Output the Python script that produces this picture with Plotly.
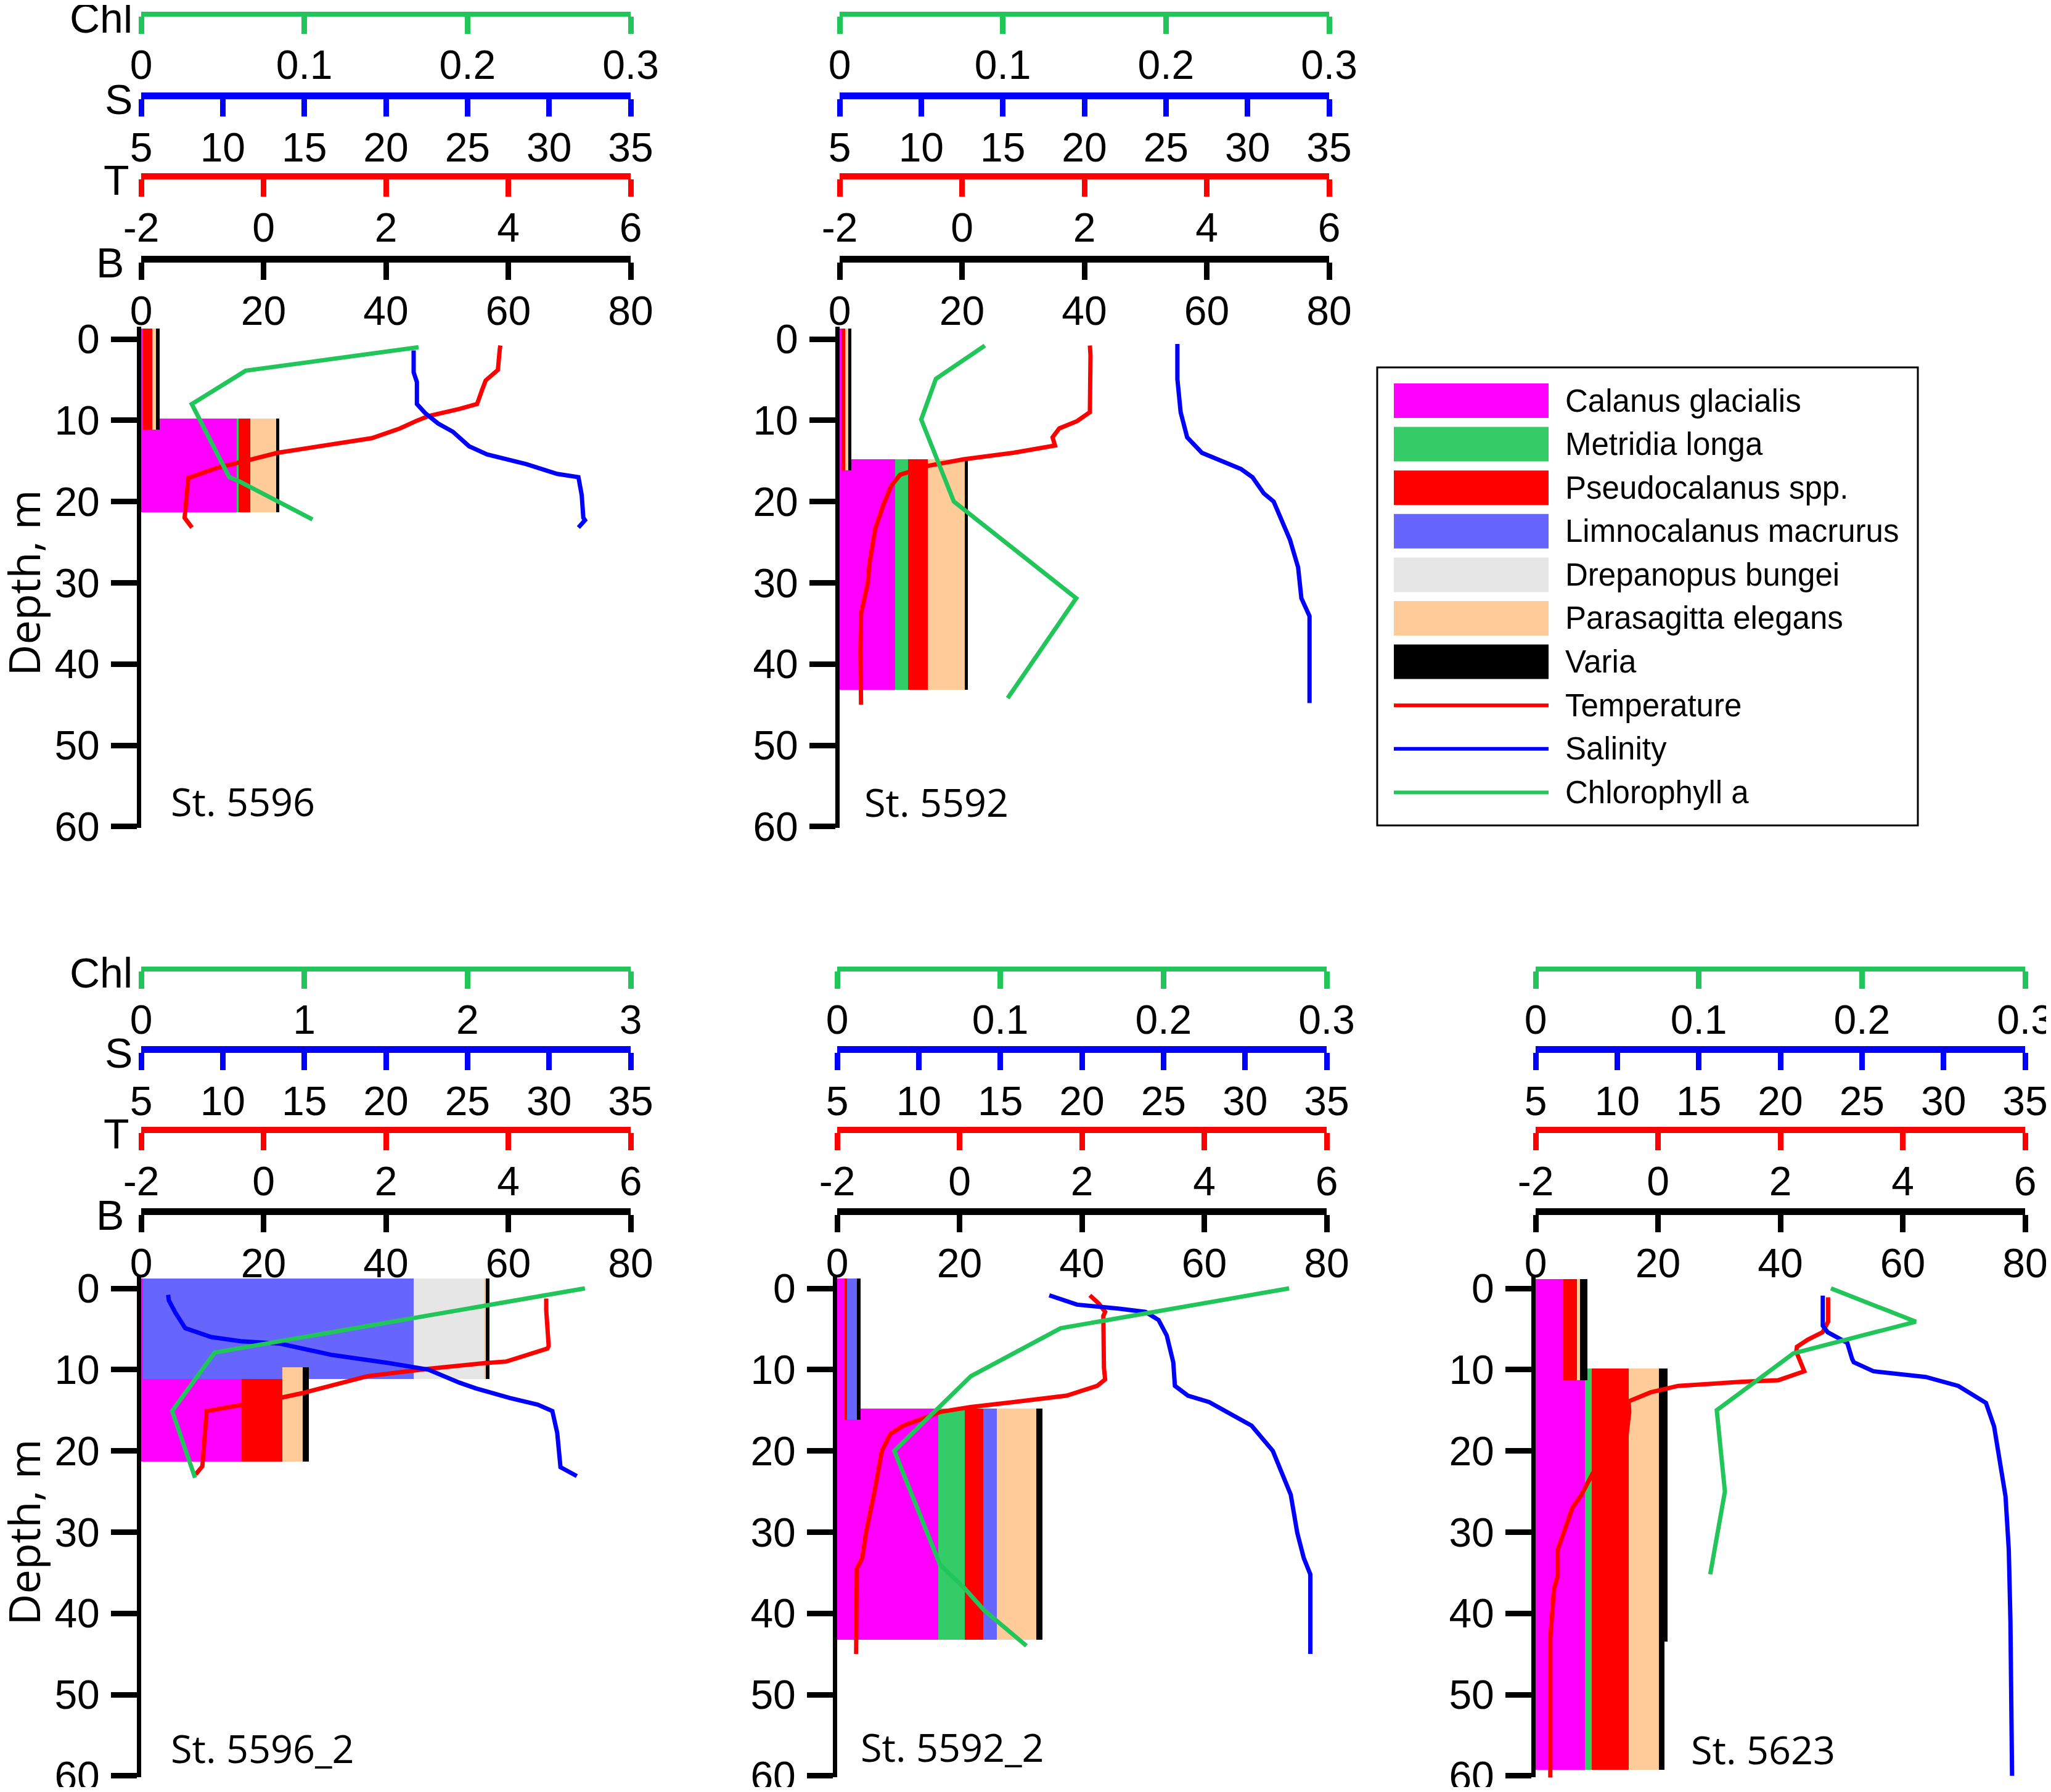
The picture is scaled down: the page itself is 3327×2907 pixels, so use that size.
import plotly.graph_objects as go

W, H = 3327, 2907

# ---------------- data ----------------
species = ["Calanus glacialis", "Metridia longa", "Pseudocalanus spp.",
           "Limnocalanus macrurus", "Drepanopus bungei", "Parasagitta elegans", "Varia"]
species_colors = ["#FF00FF", "#33CC66", "#FF0000", "#6666FF", "#E6E6E6", "#FFCC99", "#000000"]
line_names = ["Temperature", "Salinity", "Chlorophyll a"]
line_colors = ["#FF0000", "#0000FF", "#22C55A"]

stations = ["St. 5596", "St. 5592", "St. 5596_2", "St. 5592_2", "St. 5623"]
chl_max = [0.3, 0.3, 3, 0.3, 0.3]
chl_ticks = [[0, 0.1, 0.2, 0.3], [0, 0.1, 0.2, 0.3], [0, 1, 2, 3],
             [0, 0.1, 0.2, 0.3], [0, 0.1, 0.2, 0.3]]

# sampled layers (top, bottom of drawn bar, m) and biomass per species (same order as `species`)
layer_top_5596 = [-1.3, 9.8]
layer_bottom_5596 = [11.2, 21.3]
biomass_5596 = [[0.3, 0, 1.5, 0, 0, 0.6, 0.6],
                [15.6, 0.3, 1.9, 0, 0, 4.3, 0.5]]

layer_top_5592 = [-1.3, 14.8]
layer_bottom_5592 = [16.2, 43.2]
biomass_5592 = [[0.3, 0, 0.6, 0, 0, 0.5, 0.5],
                [9.1, 2.1, 3.2, 0, 0, 6.1, 0.5]]

layer_top_5596_2 = [-1.2, 9.7]
layer_bottom_5596_2 = [11.2, 21.3]
biomass_5596_2 = [[0.3, 0, 0, 44.2, 11.5, 0.3, 0.6],
                  [16.4, 0, 6.7, 0, 0, 3.3, 1.0]]

layer_top_5592_2 = [-1.2, 14.8]
layer_bottom_5592_2 = [16.2, 43.3]
biomass_5592_2 = [[1.2, 0, 0.4, 1.6, 0, 0, 0.6],
                  [16.5, 4.4, 3.0, 2.2, 0, 6.4, 1.1]]

layer_top_5623 = [-1.1, 9.9, 43.5]
layer_bottom_5623 = [11.3, 43.5, 59.3]
biomass_5623 = [[4.5, 0, 2.3, 0, 0, 0.5, 1.2],
                [8.1, 1.1, 6.0, 0, 0, 5.0, 1.4],
                [8.1, 1.1, 6.0, 0, 0, 5.0, 0.9]]

# temperature profiles (deg C)
t_depth_5596 = [0.8, 1.3, 3.8, 5.1, 6.3, 8.0, 8.6, 9.5, 10.1, 11.0, 12.2, 13.2, 14.0, 15.2, 15.8, 17.1, 22.0, 23.2]
t_5596 = [3.87, 3.86, 3.83, 3.63, 3.57, 3.49, 3.2, 2.69, 2.49, 2.23, 1.77, 0.91, 0.23, -0.4, -0.74, -1.23, -1.29, -1.17]
t_depth_5592 = [0.8, 2.0, 9.0, 10.1, 11.0, 12.1, 13.1, 14.0, 14.8, 15.6, 16.7, 18.1, 20.3, 23.4, 27.5, 30.0, 33.8, 38.5, 45.0]
t_5592 = [2.09, 2.10, 2.09, 1.88, 1.59, 1.48, 1.52, 0.84, 0.03, -0.55, -1.01, -1.16, -1.28, -1.42, -1.51, -1.54, -1.65, -1.66, -1.65]
t_depth_5596_2 = [1.25, 2.7, 7.1, 7.4, 9.0, 9.2, 9.9, 10.8, 12.9, 13.6, 15.1, 21.9, 22.9]
t_5596_2 = [4.62, 4.62, 4.66, 4.64, 3.97, 3.61, 2.69, 1.70, 0.63, 0.20, -0.93, -1.00, -1.11]
t_depth_5592_2 = [0.85, 1.9, 2.9, 3.4, 9.8, 11.2, 12.0, 13.2, 14.0, 14.6, 15.2, 16.9, 17.9, 20.0, 25.0, 30.1, 33.2, 34.5, 45.0]
t_5592_2 = [2.13, 2.28, 2.38, 2.35, 2.36, 2.38, 2.25, 1.75, 0.88, 0.18, -0.31, -0.92, -1.13, -1.27, -1.39, -1.53, -1.59, -1.68, -1.69]
t_depth_5623 = [1.1, 4.1, 5.4, 6.3, 7.2, 7.8, 10.2, 11.3, 11.5, 12.0, 12.8, 13.9, 15.2, 17.8, 22.8, 25.4, 27.0, 29.1, 32.2, 35.4, 37.0, 43.0, 60.9]
t_5623 = [2.78, 2.78, 2.69, 2.45, 2.27, 2.26, 2.39, 1.97, 1.37, 0.33, -0.12, -0.48, -0.47, -0.51, -1.07, -1.25, -1.40, -1.49, -1.64, -1.64, -1.70, -1.76, -1.76]

# salinity profiles (psu)
s_depth_5596 = [1.4, 4.1, 5.3, 8.0, 9.1, 10.4, 11.4, 13.2, 14.2, 15.4, 16.6, 17.0, 19.2, 22.0, 22.3, 23.2]
s_5596 = [21.7, 21.7, 21.9, 21.9, 22.4, 23.2, 24.1, 25.1, 26.2, 28.6, 30.5, 31.8, 32.0, 32.1, 32.2, 31.8]
s_depth_5592 = [0.6, 4.9, 9.0, 12.1, 14.0, 16.0, 17.0, 19.0, 20.0, 24.7, 28.1, 31.9, 34.1, 44.8]
s_5592 = [25.7, 25.7, 25.9, 26.3, 27.2, 29.6, 30.3, 31.0, 31.6, 32.6, 33.1, 33.3, 33.8, 33.8]
s_depth_5596_2 = [0.8, 1.5, 3.0, 4.9, 6.0, 6.5, 6.8, 8.2, 9.2, 10.0, 11.6, 12.3, 13.5, 14.3, 15.1, 17.8, 22.0, 23.1]
s_5596_2 = [6.65, 6.7, 7.1, 7.7, 9.3, 11.1, 13.5, 16.7, 20.2, 22.6, 24.5, 25.5, 27.6, 29.3, 30.2, 30.5, 30.7, 31.7]
s_depth_5592_2 = [0.85, 2.0, 2.5, 2.9, 3.9, 5.8, 9.1, 12.0, 13.2, 14.0, 16.9, 20.0, 25.4, 30.1, 33.2, 35.2, 45.0]
s_5592_2 = [18.0, 19.7, 22.3, 23.9, 24.7, 25.2, 25.6, 25.7, 26.5, 27.8, 30.4, 31.7, 32.8, 33.2, 33.6, 34.0, 34.0]
s_depth_5623 = [0.9, 4.6, 5.4, 6.7, 8.7, 9.1, 10.2, 10.9, 12.0, 14.1, 17.0, 25.6, 32.2, 40.9, 60.0]
s_5623 = [22.6, 22.6, 22.9, 24.1, 24.4, 24.5, 25.7, 28.9, 30.9, 32.6, 33.1, 33.8, 34.0, 34.1, 34.2]

# chlorophyll a profiles
c_depth_5596 = [1.0, 3.9, 8.0, 17.0, 17.5, 22.2]
c_5596 = [0.170, 0.064, 0.031, 0.054, 0.060, 0.105]
c_depth_5592 = [0.8, 4.9, 9.9, 20.0, 31.9, 44.2]
c_5592 = [0.089, 0.059, 0.050, 0.070, 0.145, 0.103]
c_depth_5596_2 = [0.0, 7.9, 15.1, 23.3]
c_5596_2 = [2.72, 0.45, 0.19, 0.33]
c_depth_5592_2 = [0.0, 4.9, 10.8, 20.0, 34.0, 36.9, 39.6, 44.0]
c_5592_2 = [0.277, 0.137, 0.082, 0.035, 0.063, 0.078, 0.090, 0.116]
c_depth_5623 = [0.0, 4.1, 8.0, 15.0, 25.0, 35.2]
c_5623 = [0.181, 0.233, 0.158, 0.111, 0.116, 0.107]

b_ticks = [0, 20, 40, 60, 80]
t_ticks = [-2, 0, 2, 4, 6]
s_ticks = [5, 10, 15, 20, 25, 30, 35]
depth_ticks = [0, 10, 20, 30, 40, 50, 60]

station_table = [
    (layer_top_5596, layer_bottom_5596, biomass_5596, t_depth_5596, t_5596, s_depth_5596, s_5596, c_depth_5596, c_5596),
    (layer_top_5592, layer_bottom_5592, biomass_5592, t_depth_5592, t_5592, s_depth_5592, s_5592, c_depth_5592, c_5592),
    (layer_top_5596_2, layer_bottom_5596_2, biomass_5596_2, t_depth_5596_2, t_5596_2, s_depth_5596_2, s_5596_2, c_depth_5596_2, c_5596_2),
    (layer_top_5592_2, layer_bottom_5592_2, biomass_5592_2, t_depth_5592_2, t_5592_2, s_depth_5592_2, s_5592_2, c_depth_5592_2, c_5592_2),
    (layer_top_5623, layer_bottom_5623, biomass_5623, t_depth_5623, t_5623, s_depth_5623, s_5623, c_depth_5623, c_5623),
]

# ---------------- layout constants (pixels of the final page) ----------------
OFF = 8                      # default page body margin
FIG_W, FIG_H = W - 2 * OFF, H - 2 * OFF
FONT = "Liberation Sans, Arial, sans-serif"
FONT2 = "Open Sans, Noto Sans, sans-serif"
TICK_FS = 66
TITLE_FS = 68

PANEL_X = [(229, 1023), (1362, 2156), (229, 1023), (1358, 2152), (2491, 3285)]
PANEL_ROW = [0, 0, 1, 1, 1]
ROW_DEPTH0 = [550, 2090]
PX_PER_M = 13.18
ROW_LINES = [(23, 155, 286, 420), (1572, 1702, 1833, 1965)]  # Chl, S, T, B
Y_LO, Y_HI = -1.5, 60.2
LABEL_POS = [(275, 1299), (1400, 1300), (275, 2835), (1394, 2833), (2741, 2837)]


def xp(px):
    return (px - OFF) / FIG_W


def yp(py):
    return 1 - (py - OFF) / FIG_H


def xname(n):
    return "x" if n == 1 else f"x{n}"


def xlay(n):
    return "xaxis" if n == 1 else f"xaxis{n}"


def yname(n):
    return "y" if n == 1 else f"y{n}"


def ylay(n):
    return "yaxis" if n == 1 else f"yaxis{n}"


def fmt(v):
    return f"{v:g}"


fig = go.Figure()
lay = {}
annotations = []
shapes = []

for k, st in enumerate(station_table):
    (ltop, lbot, bio, td, tv, sd, sv, cd, cv) = st
    row = PANEL_ROW[k]
    x0, x1 = PANEL_X[k]
    lc, ls, lt, lb = ROW_LINES[row]
    d0 = ROW_DEPTH0[row]
    xb, xt, xs, xc = 4 * k + 1, 4 * k + 2, 4 * k + 3, 4 * k + 4
    yid = k + 1

    centers = [(a + b) / 2 for a, b in zip(ltop, lbot)]
    thick = [b - a for a, b in zip(ltop, lbot)]
    for j, name in enumerate(species):
        fig.add_trace(go.Bar(
            orientation="h", y=centers, x=[layer[j] for layer in bio], width=thick,
            marker=dict(color=species_colors[j], line=dict(width=0)),
            name=name, showlegend=False,
            xaxis=xname(xb), yaxis=yname(yid)))

    fig.add_trace(go.Scatter(x=tv, y=td, mode="lines", line=dict(color=line_colors[0], width=7),
                             showlegend=False, xaxis=xname(xt), yaxis=yname(yid)))
    fig.add_trace(go.Scatter(x=sv, y=sd, mode="lines", line=dict(color=line_colors[1], width=7),
                             showlegend=False, xaxis=xname(xs), yaxis=yname(yid)))
    fig.add_trace(go.Scatter(x=cv, y=cd, mode="lines", line=dict(color=line_colors[2], width=7),
                             showlegend=False, xaxis=xname(xc), yaxis=yname(yid)))

    common = dict(anchor="free", side="bottom", showgrid=False, zeroline=False,
                  ticks="outside", ticklen=28, tickwidth=9, showline=True, automargin=False,
                  tickfont=dict(family=FONT, size=TICK_FS, color="black"),
                  ticklabelstandoff=-6, ticklabeloverflow="allow", fixedrange=True)

    lay[xlay(xb)] = dict(domain=[xp(x0), xp(x1)], range=[0, 80], position=yp(lb),
                         linecolor="black", linewidth=11, tickcolor="black",
                         tickvals=b_ticks, ticktext=[fmt(v) for v in b_ticks], **common)
    lay[xlay(xt)] = dict(overlaying=xname(xb), range=[-2, 6], position=yp(lt),
                         linecolor=line_colors[0], linewidth=10, tickcolor=line_colors[0],
                         tickvals=t_ticks, ticktext=[fmt(v) for v in t_ticks], **common)
    lay[xlay(xs)] = dict(overlaying=xname(xb), range=[5, 35], position=yp(ls),
                         linecolor=line_colors[1], linewidth=11, tickcolor=line_colors[1],
                         tickvals=s_ticks, ticktext=[fmt(v) for v in s_ticks], **common)
    lay[xlay(xc)] = dict(overlaying=xname(xb), range=[0, chl_max[k]], position=yp(lc),
                         linecolor=line_colors[2], linewidth=8, tickcolor=line_colors[2],
                         tickvals=chl_ticks[k], ticktext=[fmt(v) for v in chl_ticks[k]], **common)

    ytop_px = d0 + Y_LO * PX_PER_M
    ybot_px = d0 + Y_HI * PX_PER_M
    lay[ylay(yid)] = dict(domain=[yp(ybot_px), yp(ytop_px)], range=[Y_HI, Y_LO],
                          anchor=xname(xb), side="left", showgrid=False, zeroline=False,
                          showline=True, linecolor="black", linewidth=7, automargin=False,
                          ticks="outside", ticklen=42, tickwidth=9, tickcolor="black",
                          tickvals=depth_ticks, ticktext=[fmt(v) for v in depth_ticks],
                          tickfont=dict(family=FONT, size=TICK_FS, color="black"),
                          ticklabelstandoff=5, ticklabeloverflow="allow", fixedrange=True)

    # station label
    lx, ly = LABEL_POS[k]
    annotations.append(dict(text=stations[k], x=xp(lx), y=yp(ly), xref="paper", yref="paper",
                            xanchor="left", yanchor="middle", showarrow=False,
                            font=dict(family=FONT2, size=63, color="black")))

    # axis titles and depth label for left column
    if x0 < 500:
        for txt, ypx, right in zip(["Chl", "S", "T", "B"], [lc, ls, lt, lb], [217, 217, 212, 203]):
            annotations.append(dict(text=txt, x=xp(right), y=yp(ypx + 6), xref="paper", yref="paper",
                                    xanchor="right", yanchor="middle", showarrow=False,
                                    font=dict(family=FONT, size=TITLE_FS, color="black")))
        annotations.append(dict(text="Depth, m", x=xp(38), y=yp(d0 + 30 * PX_PER_M),
                                xref="paper", yref="paper", xanchor="center", yanchor="middle",
                                textangle=-90, showarrow=False,
                                font=dict(family=FONT2, size=70, color="black")))

# ---------------- legend (drawn) ----------------
LEG_BOX = (2234, 596, 3111, 1339)
LEG_ROW0, LEG_STEP = 650, 70.6
SW_X0, SW_X1, SW_H, TXT_X = 2261, 2512, 56, 2537
shapes.append(dict(type="rect", xref="paper", yref="paper",
                   x0=xp(LEG_BOX[0]), x1=xp(LEG_BOX[2]), y0=yp(LEG_BOX[3]), y1=yp(LEG_BOX[1]),
                   line=dict(color="black", width=3), fillcolor="rgba(0,0,0,0)"))
entries = [(n, c, "bar") for n, c in zip(species, species_colors)] + \
          [(n, c, "line") for n, c in zip(line_names, line_colors)]
for i, (name, col, kind) in enumerate(entries):
    cy = LEG_ROW0 + i * LEG_STEP
    if kind == "bar":
        shapes.append(dict(type="rect", xref="paper", yref="paper",
                           x0=xp(SW_X0), x1=xp(SW_X1), y0=yp(cy + SW_H / 2), y1=yp(cy - SW_H / 2),
                           line=dict(width=0), fillcolor=col))
    else:
        shapes.append(dict(type="line", xref="paper", yref="paper",
                           x0=xp(SW_X0), x1=xp(SW_X1), y0=yp(cy), y1=yp(cy),
                           line=dict(color=col, width=6)))
    annotations.append(dict(text=name, x=xp(TXT_X), y=yp(cy), xref="paper", yref="paper",
                            xanchor="left", yanchor="middle", showarrow=False,
                            font=dict(family=FONT, size=51, color="black")))

fig.update_layout(
    width=FIG_W, height=FIG_H, margin=dict(l=0, r=0, t=0, b=0, autoexpand=False),
    paper_bgcolor="white", plot_bgcolor="white",
    barmode="stack", bargap=0, showlegend=False,
    annotations=annotations, shapes=shapes, **lay)

fig.write_html("out.html")
